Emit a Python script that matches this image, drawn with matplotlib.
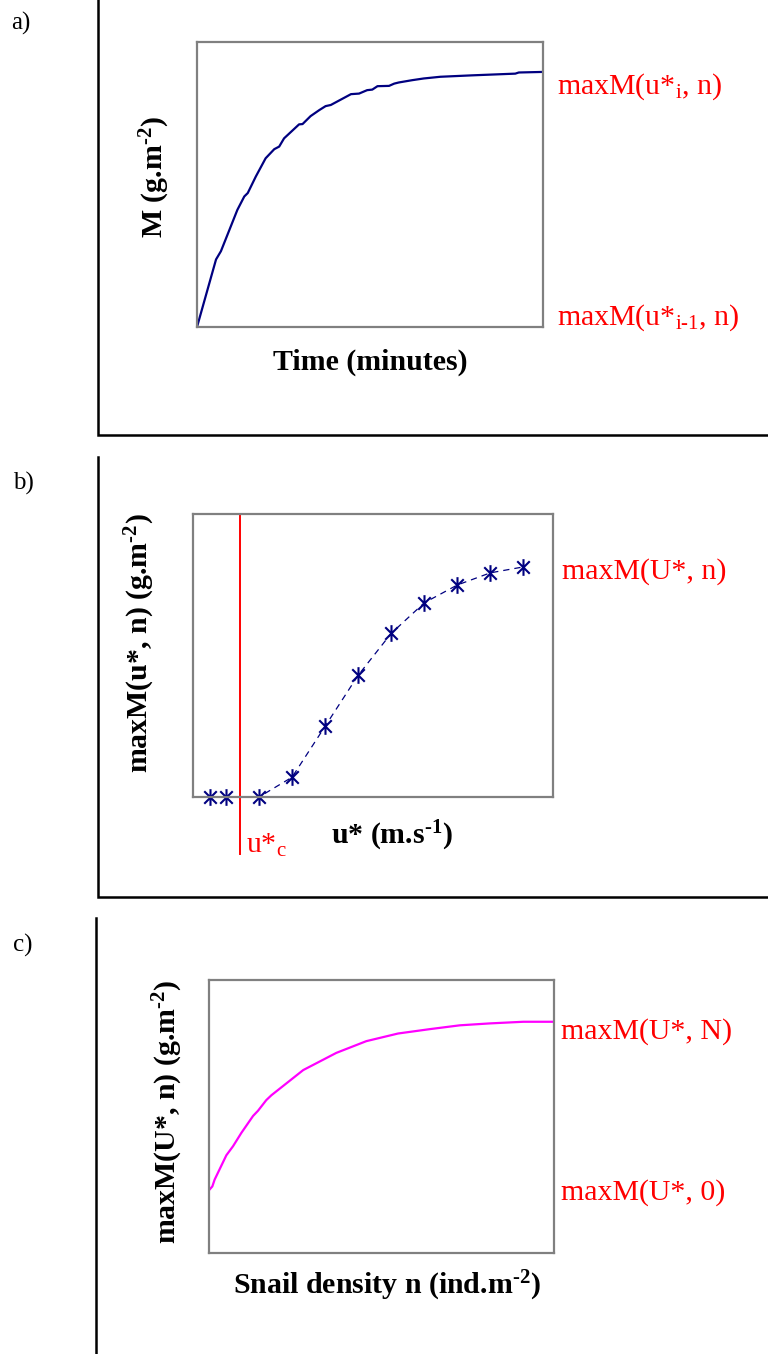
import matplotlib
matplotlib.use("Agg")
import matplotlib.pyplot as plt
from matplotlib.path import Path

plt.rcParams['font.family'] = ['Liberation Serif', 'DejaVu Serif']
plt.rcParams['mathtext.fontset'] = 'custom'
plt.rcParams['mathtext.rm'] = 'Liberation Serif'
plt.rcParams['mathtext.it'] = 'Liberation Serif:italic'
plt.rcParams['mathtext.bf'] = 'Liberation Serif:bold'

# ---- data ----
# a) cumulative eroded mass vs time (relative units)
time_min = [0, 3.3, 4.15, 7.0, 8.2, 8.8, 10.2, 11.9, 13.4, 14.25, 15.1, 17.7, 18.3,
            19.7, 21.2, 22.3, 23.2, 26.7, 28.1, 29.5, 30.4, 31.3, 33.3, 34.2, 35.0,
            37.3, 39.3, 42.2, 47.7, 55.2, 55.8, 60]
mass = [0, 0.237, 0.266, 0.411, 0.458, 0.470, 0.528, 0.592, 0.624, 0.633, 0.662,
        0.711, 0.712, 0.740, 0.761, 0.775, 0.779, 0.817, 0.819, 0.831, 0.833, 0.845,
        0.846, 0.854, 0.858, 0.866, 0.872, 0.878, 0.883, 0.889, 0.893, 0.895]

# b) max eroded mass vs friction velocity
ustar = [0.5, 1, 2, 3, 4, 5, 6, 7, 8, 9, 10]
max_mass = [0, 0, 0, 0.07, 0.25, 0.43, 0.578, 0.686, 0.749, 0.792, 0.813]
ustar_c = 1.42

# c) max eroded mass vs snail density
density = [0, 0.97, 1.64, 5.03, 6.96, 9.38, 12.77, 14.2, 16.6, 18.1, 27.3, 36.9,
           45.6, 54.8, 64.0, 72.7, 81.4, 91.1, 100]
max_mass_n = [0.230, 0.244, 0.269, 0.358, 0.391, 0.440, 0.502, 0.521, 0.560, 0.578,
              0.670, 0.733, 0.776, 0.804, 0.820, 0.834, 0.841, 0.847, 0.847]

W, H = 768, 1354
navy = '#000080'
red = '#FF0000'
magenta = '#FF00FF'
spine_grey = '#808080'

fig = plt.figure(figsize=(W / 100, H / 100), dpi=100)

# background axes in pixel coordinates for frames and labels
bg = fig.add_axes([0, 0, 1, 1])
bg.set_xlim(0, W)
bg.set_ylim(H, 0)
bg.axis('off')


def frame(x0, y0, x1, y1):
    bg.plot([x0, x0, x1, x1], [y0, y1, y1, y0], color='black', lw=1.8,
            solid_joinstyle='miter', clip_on=False)


frame(98, -5, 775, 435)
frame(98, 457, 775, 897)
frame(96, 918, 775, 1360)


def inner_axes(x0, y0, x1, y1):
    ax = fig.add_axes([x0 / W, 1 - y1 / H, (x1 - x0) / W, (y1 - y0) / H])
    ax.set_xticks([])
    ax.set_yticks([])
    for s in ax.spines.values():
        s.set_color(spine_grey)
        s.set_linewidth(1.6)
    return ax


# ---- panel a ----
ax_a = inner_axes(197, 42, 543, 327)
ax_a.plot(time_min, mass, color=navy, lw=1.6)
ax_a.set_xlim(0, 60)
ax_a.set_ylim(0, 1)

# ---- panel b ----
ax_b = inner_axes(193, 514, 553, 797)
star = Path([(0, -1), (0, 1), (-0.75, -0.75), (0.75, 0.75), (-0.75, 0.75), (0.75, -0.75)],
            [Path.MOVETO, Path.LINETO] * 3)
ax_b.plot(ustar, max_mass, color=navy, lw=0.9, ls=(0, (5, 4)),
          marker=star, markersize=12, markeredgewidth=1.5, clip_on=False)
ax_b.axvline(ustar_c, ymin=-0.2, ymax=1, color=red, lw=1.4, clip_on=False)
ax_b.set_xlim(0, 10.9)
ax_b.set_ylim(0, 1)

# ---- panel c ----
ax_c = inner_axes(209, 980, 554, 1253)
ax_c.plot(density, max_mass_n, color=magenta, lw=1.6)
ax_c.set_xlim(0, 100)
ax_c.set_ylim(0, 1)

# ---- text ----
fs_lab = 21.5
fs_red = 21.5

bg.text(11, 23, 'a)', fontsize=18, ha='left', va='center')
bg.text(13, 483, 'b)', fontsize=18, ha='left', va='center')
bg.text(13, 945, 'c)', fontsize=18, ha='left', va='center')

bg.text(370, 362, 'Time (minutes)', fontsize=fs_lab, fontweight='bold', ha='center', va='center')
bg.text(155, 177, r'M (g.m$^{\mathbf{\text{-}2}}$)', fontsize=fs_lab, fontweight='bold',
        rotation=90, ha='center', va='center')
bg.text(557, 87, r'maxM(u*$_{\mathrm{i}}$, n)', fontsize=fs_red, color=red, ha='left', va='center')
bg.text(557, 318, r'maxM(u*$_{\text{i-1}}$, n)', fontsize=fs_red, color=red, ha='left', va='center')

bg.text(392, 836, r'u* (m.s$^{\mathbf{\text{-}1}}$)', fontsize=fs_lab, fontweight='bold', ha='center', va='center')
bg.text(246, 845, r'u*$_{\mathrm{c}}$', fontsize=fs_red, color=red, ha='left', va='center')
bg.text(140, 643, r'maxM(u*, n) (g.m$^{\mathbf{\text{-}2}}$)', fontsize=fs_lab, fontweight='bold',
        rotation=90, ha='center', va='center')
bg.text(562, 572, 'maxM(U*, n)', fontsize=fs_red, color=red, ha='left', va='center')

bg.text(387, 1286, r'Snail density n (ind.m$^{\mathbf{\text{-}2}}$)', fontsize=fs_lab, fontweight='bold',
        ha='center', va='center')
bg.text(168, 1112, r'maxM(U*, n) (g.m$^{\mathbf{\text{-}2}}$)', fontsize=fs_lab, fontweight='bold',
        rotation=90, ha='center', va='center')
bg.text(561, 1032, 'maxM(U*, N)', fontsize=fs_red, color=red, ha='left', va='center')
bg.text(561, 1193, 'maxM(U*, 0)', fontsize=fs_red, color=red, ha='left', va='center')

fig.savefig('out.png', dpi=100, facecolor='white')
